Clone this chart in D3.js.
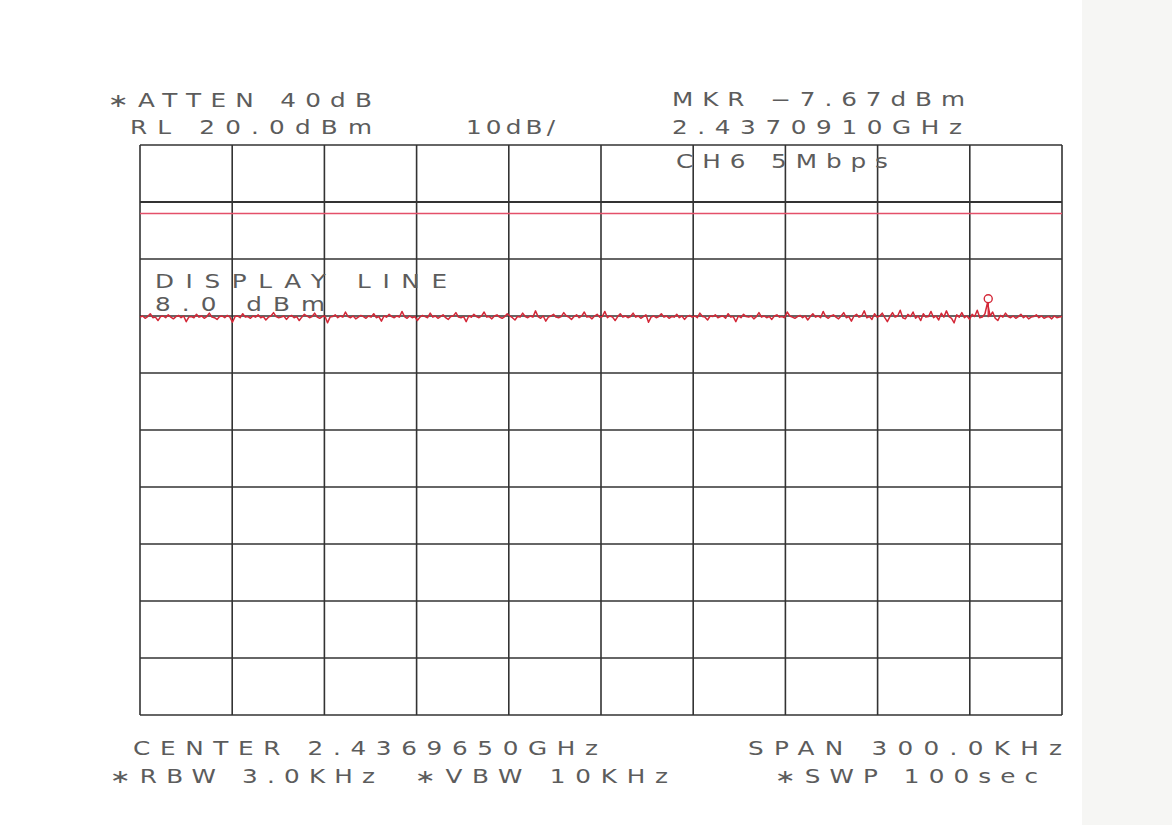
<!DOCTYPE html>
<html><head><meta charset="utf-8">
<script src="https://cdn.jsdelivr.net/npm/d3@7"></script>
<style>html,body{margin:0;padding:0;background:#fff}</style>
</head><body>
<script>
// ---- data ----
const refLevel = 20;          // dBm
const dbPerDiv = 10;
const divisions = [0,1,2,3,4,5,6,7,8,9,10];
const centerGHz = 2.4369650;
const spanKHz = 300;
const displayLine = 8.0;      // dBm
const markerKHz = 126;        // offset from center (2.4370910 GHz)
const markerDbm = -7.67;
const traceDbm = [
-10.2,-10.0,-10.4,-10.1,-9.6,-10.3,-10.2,-10.8,-10.1,-10.0,
-10.3,-9.8,-10.2,-10.5,-10.1,-9.9,-10.3,-10.0,-11.0,-10.2,
-10.1,-10.3,-9.7,-10.2,-10.0,-10.4,-10.1,-9.5,-10.2,-10.3,
-10.6,-10.1,-10.0,-10.3,-9.9,-10.2,-11.1,-10.1,-10.0,-10.3,
-9.6,-10.2,-10.1,-10.4,-10.0,-10.2,-9.8,-10.3,-10.1,-10.7,
-10.2,-10.0,-9.4,-10.1,-10.3,-10.2,-10.0,-10.6,-10.1,-9.9,
-10.3,-10.1,-10.8,-10.2,-9.7,-10.0,-10.3,-10.1,-9.5,-10.2,
-10.4,-10.1,-10.0,-11.2,-10.2,-10.1,-9.8,-10.3,-10.0,-10.2,
-9.3,-10.1,-10.3,-10.0,-10.5,-10.2,-9.9,-10.1,-10.4,-10.0,
-10.2,-9.6,-10.3,-10.1,-10.9,-10.0,-10.2,-9.7,-10.1,-10.3,
-10.0,-10.2,-9.2,-10.1,-10.4,-10.0,-10.3,-10.1,-10.8,-10.2,
-9.9,-10.1,-10.3,-9.5,-10.2,-10.0,-10.4,-10.1,-9.8,-10.3,
-10.6,-10.1,-10.0,-9.4,-10.2,-10.3,-10.1,-11.0,-10.0,-10.2,
-9.7,-10.1,-10.3,-10.0,-9.3,-10.2,-10.1,-10.5,-10.0,-9.8,
-10.2,-10.4,-10.1,-9.6,-10.0,-10.3,-10.7,-10.1,-10.2,-9.5,
-10.1,-10.3,-10.0,-10.2,-9.1,-10.1,-10.4,-10.0,-10.9,-10.2,
-10.0,-9.7,-10.2,-10.3,-10.1,-9.4,-10.0,-10.2,-10.6,-10.1,
-9.8,-10.3,-10.0,-9.3,-10.2,-10.1,-10.5,-10.0,-9.7,-10.2,
-10.1,-9.2,-10.3,-10.0,-10.2,-10.8,-10.1,-9.6,-10.2,-10.0,
-10.3,-10.1,-9.5,-10.2,-10.0,-10.4,-10.1,-9.8,-11.1,-10.2,
-10.0,-10.3,-10.1,-9.6,-10.2,-10.0,-10.4,-10.1,-10.2,-9.7,
-10.3,-10.0,-10.6,-10.1,-9.9,-10.2,-10.0,-10.3,-9.5,-10.1,
-10.2,-10.7,-10.0,-10.1,-9.8,-10.3,-10.1,-10.0,-10.4,-9.6,
-10.2,-10.1,-11.0,-10.0,-10.3,-9.7,-10.1,-10.2,-10.0,-10.5,
-10.1,-9.4,-10.2,-10.0,-10.3,-10.1,-10.6,-10.0,-9.8,-10.2,
-10.1,-10.3,-9.3,-10.0,-10.2,-10.4,-10.1,-9.9,-10.3,-10.0,
-10.7,-10.1,-9.6,-10.2,-10.0,-10.3,-9.2,-10.1,-10.4,-10.0,
-9.8,-10.2,-10.5,-10.0,-9.4,-10.3,-10.1,-10.9,-10.0,-9.7,
-10.2,-10.0,-9.1,-10.3,-10.1,-10.6,-9.6,-10.2,-10.0,-9.5,
-10.3,-11.0,-10.1,-9.4,-10.2,-10.0,-9.0,-10.3,-10.5,-9.7,
-10.1,-9.3,-10.4,-10.0,-10.8,-9.6,-10.2,-10.1,-9.2,-10.3,
-10.0,-10.7,-9.5,-10.2,-9.1,-10.1,-10.4,-11.2,-9.8,-10.2,
-9.4,-10.3,-10.0,-10.6,-9.7,-10.1,-9.0,-10.3,-10.2,-9.6,
-7.67,-10.0,-9.3,-10.4,-10.8,-9.9,-10.2,-9.5,-10.1,-10.3,
-10.0,-10.4,-10.1,-9.7,-10.3,-10.0,-10.5,-10.2,-10.1,-9.8,
-10.3,-10.0,-10.4,-10.2,-10.1,-10.5,-10.0,-10.3,-10.2,-10.1
];
const labels = [
  {t:"\u2217ATTEN 40dB", x:108, y:107, w:264},
  {t:"RL 20.0dBm", x:130, y:134, w:242},
  {t:"10dB/", x:466, y:134, w:89},
  {t:"MKR \u22127.67dBm", x:672, y:106, w:293},
  {t:"2.4370910GHz", x:672, y:134, w:290},
  {t:"CH6 5Mbps", x:676, y:168, w:212},
  {t:"DISPLAY LINE", x:155, y:288, w:292},
  {t:"8.0 dBm", x:155, y:311, w:170},
  {t:"CENTER 2.4369650GHz", x:133, y:755, w:465},
  {t:"SPAN 300.0KHz", x:748, y:755, w:314},
  {t:"\u2217RBW 3.0KHz", x:110, y:783, w:265},
  {t:"\u2217VBW 10KHz", x:415, y:783, w:253},
  {t:"\u2217SWP 100sec", x:775, y:783, w:263}
];

// ---- drawing ----
(function(){
const W = 1172, H = 825;
const svg = d3.select("body").append("svg").attr("width", W).attr("height", H);
svg.append("rect").attr("width", W).attr("height", H).attr("fill", "#ffffff");
svg.append("rect").attr("x", 1082).attr("width", W-1082).attr("height", H).attr("fill", "#f6f6f4");

const pL = 140, pR = 1062, pT = 145, pB = 715;
const x = d3.scaleLinear().domain([-spanKHz/2, spanKHz/2]).range([pL, pR]);
const y = d3.scaleLinear().domain([refLevel - 10*dbPerDiv, refLevel]).range([pB, pT]);
const xDiv = d3.scaleLinear().domain([0,10]).range([pL, pR]);
const yDiv = d3.scaleLinear().domain([0,10]).range([pT, pB]);

const g = svg.append("g");
g.selectAll("line.v").data(divisions).enter().append("line")
  .attr("x1", d => xDiv(d)).attr("x2", d => xDiv(d))
  .attr("y1", pT).attr("y2", pB)
  .attr("stroke", "#333").attr("stroke-width", 1.6);
g.selectAll("line.h").data(divisions).enter().append("line")
  .attr("y1", d => yDiv(d)).attr("y2", d => yDiv(d))
  .attr("x1", pL).attr("x2", pR)
  .attr("stroke", "#333").attr("stroke-width", d => d === 1 ? 2.2 : 1.6);

svg.append("line").attr("x1", pL).attr("x2", pR)
  .attr("y1", y(displayLine)).attr("y2", y(displayLine))
  .attr("stroke", "#e4506a").attr("stroke-width", 1.5);

const n = traceDbm.length;
const xi = d3.scaleLinear().domain([0, n-1]).range([-spanKHz/2, spanKHz/2]);
const line = d3.line().x((d,i) => x(xi(i))).y(d => y(d));
svg.append("path").datum(traceDbm).attr("d", line)
  .attr("fill", "none").attr("stroke", "#d42838").attr("stroke-width", 1.5)
  .attr("stroke-linejoin", "round");

svg.append("line").attr("x1", x(markerKHz)).attr("x2", x(markerKHz))
  .attr("y1", y(markerDbm)).attr("y2", y(-10.2))
  .attr("stroke", "#d42838").attr("stroke-width", 1.4);
svg.append("circle").attr("cx", x(markerKHz)).attr("cy", y(markerDbm) - 4)
  .attr("r", 4).attr("fill", "none").attr("stroke", "#d42838").attr("stroke-width", 1.4);

const sx = 1.3;
svg.selectAll("text.lab").data(labels).enter().append("text")
  .attr("transform", d => `translate(${d.x},${d.y}) scale(${sx},1)`)
  .attr("x", 0).attr("y", 0)
  .attr("textLength", d => d.w / sx).attr("lengthAdjust", "spacing")
  .attr("font-family", "DejaVu Sans").attr("font-size", 19)
  .attr("fill", "#5c5c5c")
  .text(d => d.t);
})();
</script>
</body></html>
